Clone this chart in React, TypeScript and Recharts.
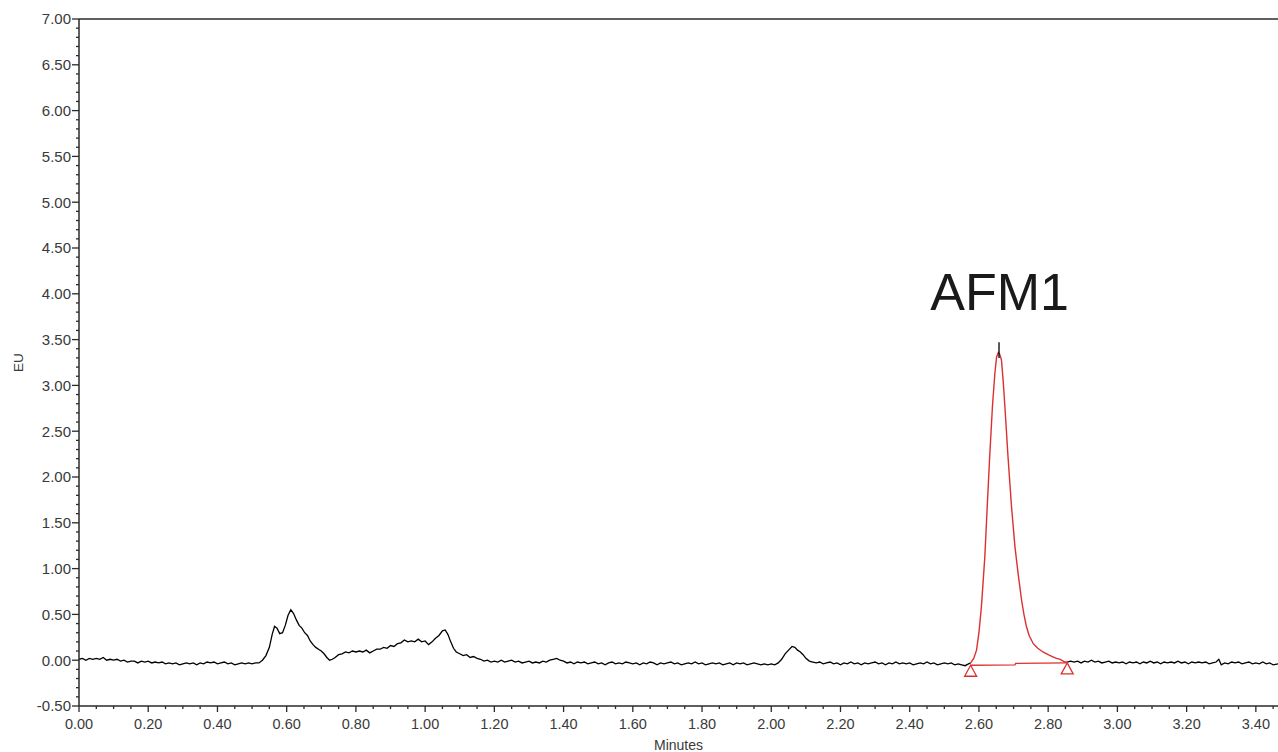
import React from "react";
import { ComposedChart, Line, XAxis, YAxis, ReferenceLine, ReferenceDot } from "recharts";

// Chromatogram trace before the AFM1 peak (minutes, EU)
const traceBefore: [number, number][] = [
  [0.000, 0.01], [0.010, 0.02], [0.020, 0.00], [0.030, 0.02], [0.040, 0.01], [0.050, 0.02], [0.060, 0.01], [0.070, 0.03],
  [0.080, 0.00], [0.090, 0.01], [0.100, 0.00], [0.110, 0.01], [0.120, -0.01], [0.130, 0.00], [0.140, -0.02], [0.150, -0.01],
  [0.160, -0.01], [0.170, -0.03], [0.180, -0.01], [0.190, -0.02], [0.200, -0.01], [0.210, -0.03], [0.220, -0.02], [0.230, -0.03],
  [0.240, -0.02], [0.250, -0.04], [0.260, -0.03], [0.270, -0.04], [0.280, -0.03], [0.290, -0.05], [0.300, -0.04], [0.310, -0.03],
  [0.320, -0.04], [0.330, -0.03], [0.340, -0.05], [0.350, -0.03], [0.360, -0.04], [0.370, -0.02], [0.380, -0.03], [0.390, -0.02],
  [0.400, -0.04], [0.410, -0.03], [0.420, -0.02], [0.430, -0.04], [0.440, -0.03], [0.450, -0.05], [0.460, -0.04], [0.470, -0.03],
  [0.480, -0.04], [0.490, -0.03], [0.500, -0.04], [0.510, -0.03], [0.520, -0.03], [0.530, 0.00], [0.540, 0.05], [0.550, 0.14],
  [0.558, 0.28], [0.565, 0.37], [0.572, 0.35], [0.580, 0.29], [0.588, 0.30], [0.596, 0.38], [0.604, 0.49], [0.612, 0.55],
  [0.620, 0.51], [0.628, 0.44], [0.636, 0.38], [0.644, 0.35], [0.652, 0.30], [0.660, 0.27], [0.668, 0.21], [0.676, 0.17],
  [0.684, 0.14], [0.692, 0.12], [0.700, 0.10], [0.708, 0.07], [0.716, 0.03], [0.724, 0.00], [0.732, 0.01], [0.740, 0.03],
  [0.750, 0.06], [0.760, 0.07], [0.770, 0.09], [0.780, 0.08], [0.790, 0.10], [0.800, 0.09], [0.810, 0.10], [0.820, 0.09],
  [0.830, 0.11], [0.840, 0.08], [0.850, 0.10], [0.860, 0.12], [0.870, 0.12], [0.880, 0.14], [0.890, 0.13], [0.900, 0.16],
  [0.910, 0.15], [0.920, 0.18], [0.930, 0.19], [0.940, 0.22], [0.950, 0.20], [0.960, 0.21], [0.970, 0.20], [0.980, 0.23],
  [0.990, 0.20], [1.000, 0.21], [1.010, 0.17], [1.020, 0.20], [1.030, 0.24], [1.040, 0.27], [1.050, 0.32], [1.058, 0.33],
  [1.066, 0.28], [1.074, 0.20], [1.082, 0.13], [1.090, 0.09], [1.100, 0.07], [1.110, 0.05], [1.120, 0.06], [1.130, 0.03],
  [1.140, 0.04], [1.150, 0.02], [1.160, 0.01], [1.170, -0.01], [1.180, 0.00], [1.190, -0.02], [1.200, -0.01], [1.210, -0.02],
  [1.220, 0.00], [1.230, -0.02], [1.240, -0.01], [1.250, 0.00], [1.260, -0.02], [1.270, -0.01], [1.280, -0.03], [1.290, -0.02],
  [1.300, -0.01], [1.310, -0.03], [1.320, -0.02], [1.330, -0.03], [1.340, -0.01], [1.350, -0.02], [1.360, 0.00], [1.370, 0.01],
  [1.380, 0.02], [1.390, 0.00], [1.400, -0.01], [1.410, -0.03], [1.420, -0.02], [1.430, -0.04], [1.440, -0.02], [1.450, -0.03],
  [1.460, -0.02], [1.470, -0.04], [1.480, -0.03], [1.490, -0.02], [1.500, -0.04], [1.510, -0.03], [1.520, -0.05], [1.530, -0.03],
  [1.540, -0.02], [1.550, -0.04], [1.560, -0.03], [1.570, -0.04], [1.580, -0.02], [1.590, -0.03], [1.600, -0.04], [1.610, -0.03],
  [1.620, -0.05], [1.630, -0.03], [1.640, -0.04], [1.650, -0.02], [1.660, -0.03], [1.670, -0.05], [1.680, -0.03], [1.690, -0.04],
  [1.700, -0.03], [1.710, -0.02], [1.720, -0.04], [1.730, -0.03], [1.740, -0.05], [1.750, -0.04], [1.760, -0.03], [1.770, -0.04],
  [1.780, -0.02], [1.790, -0.04], [1.800, -0.03], [1.810, -0.05], [1.820, -0.04], [1.830, -0.03], [1.840, -0.04], [1.850, -0.03],
  [1.860, -0.05], [1.870, -0.04], [1.880, -0.03], [1.890, -0.05], [1.900, -0.03], [1.910, -0.04], [1.920, -0.03], [1.930, -0.05],
  [1.940, -0.04], [1.950, -0.03], [1.960, -0.04], [1.970, -0.05], [1.980, -0.04], [1.990, -0.05], [2.000, -0.04], [2.010, -0.05],
  [2.020, -0.03], [2.030, 0.01], [2.040, 0.07], [2.050, 0.11], [2.060, 0.15], [2.068, 0.14], [2.076, 0.11], [2.084, 0.09],
  [2.092, 0.06], [2.100, 0.02], [2.110, -0.01], [2.120, -0.02], [2.130, -0.03], [2.140, -0.02], [2.150, -0.04], [2.160, -0.03],
  [2.170, -0.02], [2.180, -0.04], [2.190, -0.03], [2.200, -0.05], [2.210, -0.03], [2.220, -0.04], [2.230, -0.02], [2.240, -0.04],
  [2.250, -0.03], [2.260, -0.05], [2.270, -0.03], [2.280, -0.04], [2.290, -0.03], [2.300, -0.02], [2.310, -0.04], [2.320, -0.03],
  [2.330, -0.05], [2.340, -0.03], [2.350, -0.04], [2.360, -0.02], [2.370, -0.04], [2.380, -0.03], [2.390, -0.04], [2.400, -0.03],
  [2.410, -0.05], [2.420, -0.04], [2.430, -0.03], [2.440, -0.04], [2.450, -0.02], [2.460, -0.04], [2.470, -0.03], [2.480, -0.05],
  [2.490, -0.04], [2.500, -0.03], [2.510, -0.04], [2.520, -0.03], [2.530, -0.05], [2.540, -0.04], [2.550, -0.05], [2.560, -0.06],
  [2.570, -0.04], [2.576, -0.03],
];

// Integrated AFM1 peak (drawn red)
const peakAFM1: [number, number][] = [
  [2.576, -0.03], [2.585, 0.02], [2.593, 0.11], [2.600, 0.30], [2.607, 0.58], [2.612, 0.85], [2.617, 1.13], [2.624, 1.68],
  [2.631, 2.22], [2.639, 2.77], [2.646, 3.13], [2.651, 3.31], [2.656, 3.36], [2.660, 3.34], [2.665, 3.28], [2.670, 3.05],
  [2.675, 2.77], [2.684, 2.22], [2.694, 1.68], [2.704, 1.24], [2.713, 0.95], [2.723, 0.66], [2.730, 0.50], [2.737, 0.37],
  [2.745, 0.27], [2.757, 0.18], [2.770, 0.13], [2.785, 0.09], [2.800, 0.06], [2.812, 0.04], [2.824, 0.02], [2.835, 0.01],
  [2.848, -0.02], [2.855, -0.02],
];

// Trace after the peak
const traceAfter: [number, number][] = [
  [2.855, -0.02], [2.865, -0.01], [2.875, -0.02], [2.885, -0.01], [2.895, -0.03], [2.905, -0.01], [2.915, -0.02], [2.925, 0.00],
  [2.935, -0.02], [2.945, -0.01], [2.955, -0.03], [2.965, -0.02], [2.975, -0.01], [2.985, -0.03], [2.995, -0.02], [3.005, -0.03],
  [3.015, -0.02], [3.025, -0.04], [3.035, -0.02], [3.045, -0.03], [3.055, -0.02], [3.065, -0.04], [3.075, -0.02], [3.085, -0.03],
  [3.095, -0.01], [3.105, -0.03], [3.115, -0.02], [3.125, -0.04], [3.135, -0.02], [3.145, -0.03], [3.155, -0.02], [3.165, -0.03],
  [3.175, -0.01], [3.185, -0.03], [3.195, -0.02], [3.205, -0.04], [3.215, -0.02], [3.225, -0.03], [3.235, -0.02], [3.245, -0.03],
  [3.255, -0.02], [3.265, -0.04], [3.275, -0.03], [3.285, -0.02], [3.293, 0.01], [3.300, -0.05], [3.310, -0.03], [3.320, -0.04],
  [3.330, -0.02], [3.340, -0.03], [3.350, -0.02], [3.360, -0.04], [3.370, -0.03], [3.380, -0.02], [3.390, -0.04], [3.400, -0.03],
  [3.410, -0.04], [3.420, -0.02], [3.430, -0.04], [3.440, -0.03], [3.450, -0.05], [3.464, -0.04],
];

// Integration baseline of the peak, with start/end markers
const integrationBaseline: [number, number][] = [
  [2.576, -0.055], [2.704, -0.05], [2.706, -0.035], [2.855, -0.03],
];

// Apex retention marker
const apexTime = 2.658;
const apexMarker: [number, number] = [3.30, 3.47];
const peakLabel = "AFM1";
const peakLabelPos: [number, number] = [2.66, 4.02];

const xDomain: [number, number] = [0, 3.464];
const yDomain: [number, number] = [-0.5, 7];
const xMajorStep = 0.2;
const xMinorStep = 0.05;
const yMajorStep = 0.5;
const yMinorStep = 0.1;

const xTicks = Array.from({ length: 70 }, (_, i) => Math.round(i * xMinorStep * 100) / 100);
const yTicks = Array.from({ length: 76 }, (_, i) => Math.round((yDomain[0] + i * yMinorStep) * 100) / 100);

const toRows = (pts: [number, number][]) => pts.map(([t, eu]) => ({ t, eu }));

const RED = "#dc3030";
const AXIS = "#2a2a2a";
const TEXT = "#3a3a3a";
const FONT = "'Liberation Sans', Arial, Helvetica, sans-serif";

const isMajor = (v: number, step: number) => Math.abs(v / step - Math.round(v / step)) < 1e-6;

const XTick = (props: any) => {
  const { x, y, payload } = props;
  const major = isMajor(payload.value, xMajorStep);
  return (
    <g>
      <line x1={x} x2={x} y1={y} y2={y + (major ? 6 : 3)} stroke={AXIS} strokeWidth={1.3} />
      {major && (
        <text x={x} y={y + 23} textAnchor="middle" fontSize={14.5} fill={TEXT} fontFamily={FONT}>
          {payload.value.toFixed(2)}
        </text>
      )}
    </g>
  );
};

const YTick = (props: any) => {
  const { x, y, payload } = props;
  const major = isMajor(payload.value, yMajorStep);
  return (
    <g>
      <line x1={x} x2={x - (major ? 7 : 3)} y1={y} y2={y} stroke={AXIS} strokeWidth={1.3} />
      {major && (
        <text x={x - 8} y={y} dy="0.36em" textAnchor="end" fontSize={15} fill={TEXT} fontFamily={FONT}>
          {payload.value.toFixed(2)}
        </text>
      )}
    </g>
  );
};

const triangleDot = (props: any) => {
  const { cx, cy, index } = props;
  if (index !== 0 && index !== integrationBaseline.length - 1) return <g key={`b-${index}`} />;
  return (
    <path
      key={`b-${index}`}
      d={`M${cx},${cy} L${cx - 6},${cy + 11} L${cx + 6},${cy + 11} Z`}
      fill="#fff"
      stroke={RED}
      strokeWidth={1.3}
    />
  );
};

export default function App() {
  return (
    <div style={{ position: "absolute", left: 0, top: 0, background: "#fff" }}>
      <ComposedChart width={1278} height={752} margin={{ top: 19, right: 0, bottom: 0, left: 0 }}>
        <XAxis
          dataKey="t"
          type="number"
          domain={xDomain}
          ticks={xTicks}
          interval={0}
          allowDataOverflow
          height={46}
          tickSize={0}
          tickMargin={0}
          tickLine={false}
          tick={<XTick />}
          axisLine={{ stroke: AXIS, strokeWidth: 1.5 }}
          label={{ value: "Minutes", position: "insideBottom", offset: 2, fontSize: 14, fill: TEXT, fontFamily: FONT }}
        />
        <YAxis
          dataKey="eu"
          type="number"
          domain={yDomain}
          ticks={yTicks}
          interval={0}
          allowDataOverflow
          width={79}
          tickSize={0}
          tickMargin={0}
          tickLine={false}
          tick={<YTick />}
          axisLine={{ stroke: AXIS, strokeWidth: 1.5 }}
          label={{
            content: ({ viewBox }: any) => {
              const cx = viewBox.x + 18;
              const cy = viewBox.y + viewBox.height / 2;
              return (
                <text x={cx} y={cy} transform={`rotate(-90 ${cx} ${cy})`} textAnchor="middle" dy="0.36em"
                  fontSize={13.5} fill={TEXT} fontFamily={FONT}>
                  EU
                </text>
              );
            },
          }}
        />
        <ReferenceLine y={yDomain[1]} stroke={AXIS} strokeWidth={1.5} />
        <Line data={toRows(traceBefore)} dataKey="eu" type="linear" stroke="#000" strokeWidth={1.3} dot={false} isAnimationActive={false} />
        <Line data={toRows(traceAfter)} dataKey="eu" type="linear" stroke="#000" strokeWidth={1.3} dot={false} isAnimationActive={false} />
        <Line data={toRows(peakAFM1)} dataKey="eu" type="linear" stroke={RED} strokeWidth={1.4} dot={false} isAnimationActive={false} />
        <Line data={toRows(integrationBaseline)} dataKey="eu" type="linear" stroke={RED} strokeWidth={1.3} dot={triangleDot} activeDot={false} isAnimationActive={false} />
        <ReferenceLine
          segment={[{ x: apexTime, y: apexMarker[0] }, { x: apexTime, y: apexMarker[1] }]}
          stroke="#000"
          strokeWidth={1.3}
        />
        <ReferenceDot
          x={peakLabelPos[0]}
          y={peakLabelPos[1]}
          r={0}
          stroke="none"
          label={{ value: peakLabel, position: "center", fontSize: 52, fill: "#1a1a1a", fontFamily: FONT }}
        />
      </ComposedChart>
    </div>
  );
}
